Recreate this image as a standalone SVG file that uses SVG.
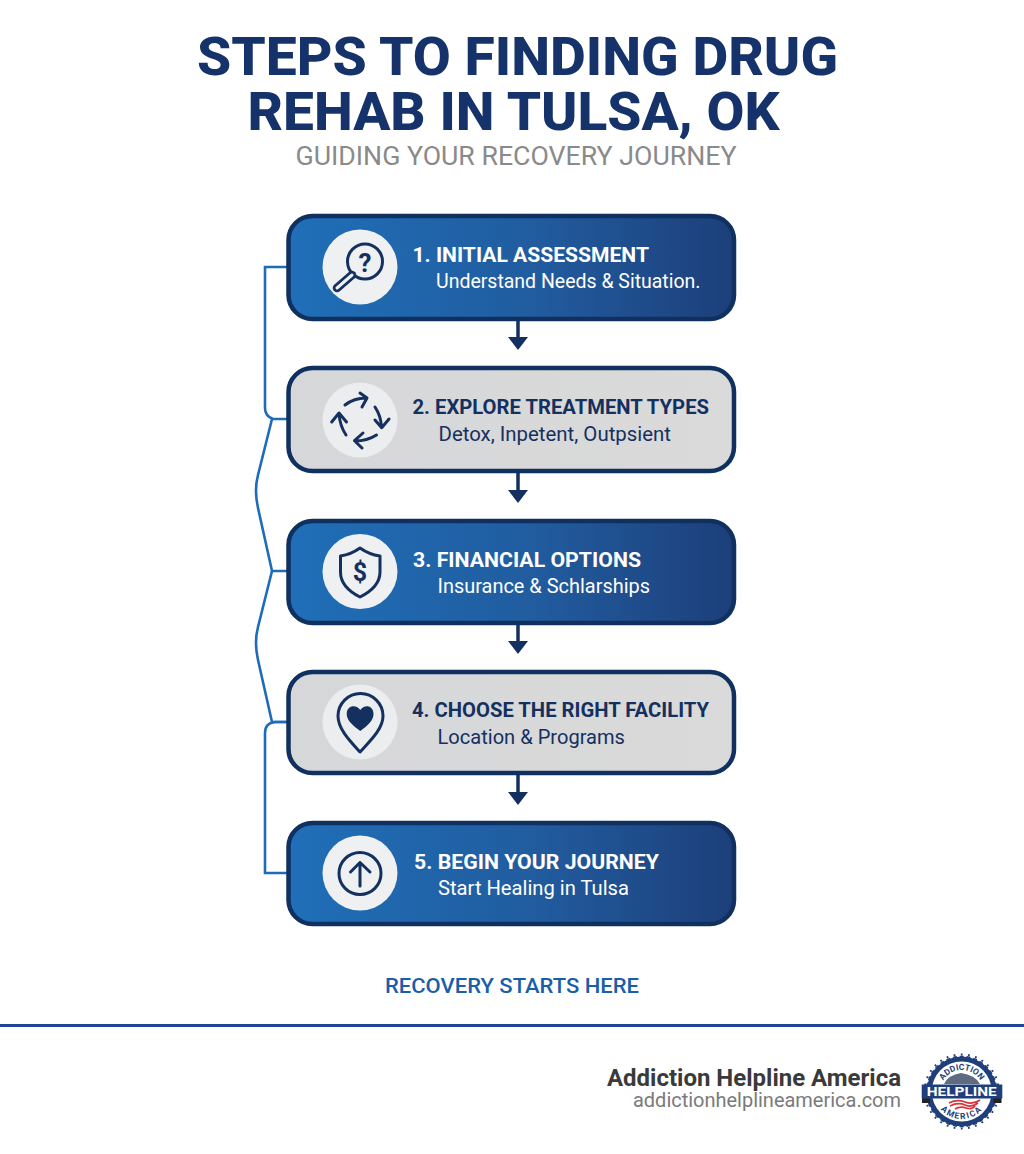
<svg xmlns="http://www.w3.org/2000/svg" width="1024" height="1154" viewBox="0 0 1024 1154">
<style>
text{font-family:Roboto,"Liberation Sans",sans-serif}
.box{stroke:#10305f;stroke-width:4.5}
.blue{fill:url(#gb)}
.gray{fill:url(#gg)}
.disc{fill:#eef0f2}
.discg{fill:#ecedee}
.t{font-size:20.5px;font-weight:700}
.s{font-size:20px;font-weight:400}
.w{fill:#fff}
.n{fill:#14305f}
.ic{fill:none;stroke:#14305f;stroke-width:3;stroke-linecap:round;stroke-linejoin:round}
.link{fill:none;stroke:#1e6cb8;stroke-width:2.6}
.flow{stroke:#14305f;stroke-width:3.5;fill:none}
.h{font-size:54.500px;font-weight:800;fill:#15336a}
</style>
<defs>
<linearGradient id="gb" x1="0" y1="0" x2="1" y2="0"><stop offset="0" stop-color="#1f6fb8"/><stop offset="0.55" stop-color="#215c9f"/><stop offset="1" stop-color="#1d3f7a"/></linearGradient>
<linearGradient id="gg" x1="0" y1="0" x2="1" y2="0"><stop offset="0" stop-color="#d6d7d9"/><stop offset="1" stop-color="#dadada"/></linearGradient>
<marker id="ah" markerUnits="userSpaceOnUse" markerWidth="13" markerHeight="20" refX="0" refY="10" orient="auto" viewBox="0 0 13 20"><path d="M0 0L13 10L0 20Z" fill="#14305f"/></marker>
<path id="arcT" d="M940.200 1091.500A21.500 21.500 0 0 1 983.200 1091.500"/>
<path id="arcB" d="M934.200 1091.500A27.500 27.500 0 0 0 989.200 1091.500"/>
</defs>
<rect width="1024" height="1154" fill="#fff"/>
<g id="header">
<text class="h" x="517.5" y="74.500" text-anchor="middle" textLength="641" lengthAdjust="spacingAndGlyphs">STEPS TO FINDING DRUG</text>
<text class="h" x="513.5" y="129.500" text-anchor="middle" textLength="532" lengthAdjust="spacingAndGlyphs">REHAB IN TULSA, OK</text>
<text x="516" y="165" text-anchor="middle" font-size="26" fill="#8a8a8a" textLength="441" lengthAdjust="spacingAndGlyphs">GUIDING YOUR RECOVERY JOURNEY</text>
</g>
<g id="connectors">
<path class="link" d="M288 267H265V408Q265 416 273 419H288"/>
<path class="link" d="M272 419L258 475Q254 490 258 508L272 571H288"/>
<path class="link" d="M272 571L258 627Q254 642 258 660L272 722H288"/>
<path class="link" d="M288 722H275Q265 723 265 733V873H288"/>
<path class="flow" d="M518 320V337" marker-end="url(#ah)"/>
<path class="flow" d="M518 473V490" marker-end="url(#ah)"/>
<path class="flow" d="M518 625V641" marker-end="url(#ah)"/>
<path class="flow" d="M518 775V792" marker-end="url(#ah)"/>
</g>
<g id="step1">
<rect class="box blue" x="288.5" y="216" width="445.5" height="103" rx="24"/>
<circle class="disc" cx="360" cy="267" r="37.5"/>
<circle class="ic" cx="365" cy="261.5" r="17.5"/>
<path d="M337 288L352 275" fill="none" stroke="#14305f" stroke-width="8.5" stroke-linecap="round"/>
<path d="M337 288L352 275" fill="none" stroke="#eef0f2" stroke-width="3" stroke-linecap="round"/>
<text x="365" y="271.5" text-anchor="middle" font-size="26" font-weight="700" class="n">?</text>
<text class="t w" x="412.5" y="262" textLength="236.5" lengthAdjust="spacingAndGlyphs">1. INITIAL ASSESSMENT</text>
<text class="s w" x="436" y="288" textLength="264.5" lengthAdjust="spacingAndGlyphs">Understand Needs &amp; Situation.</text>
</g>
<g id="step2">
<rect class="box gray" x="288.5" y="368" width="445.5" height="103" rx="24"/>
<circle class="discg" cx="360" cy="420" r="37.5"/>
<path class="ic" d="M345 405Q354 398 366 398M360 393L367 398L362 407"/>
<path class="ic" d="M375 407Q381 416 381.500 427M375 420L381.700 427.700L389 419"/>
<path class="ic" d="M376.500 435Q367 441 355 441M363 433L354.500 440.700L362 448"/>
<path class="ic" d="M346 435Q340 426 339 414M331.700 422L339 413L346.500 422"/>
<text class="t n" x="412.500" y="414" textLength="296.500" lengthAdjust="spacingAndGlyphs">2. EXPLORE TREATMENT TYPES</text>
<text class="s n" x="438.500" y="441" textLength="232.500" lengthAdjust="spacingAndGlyphs">Detox, Inpetent, Outpsient</text>
</g>
<g id="step3">
<rect class="box blue" x="288.5" y="521" width="445.5" height="102" rx="24"/>
<circle class="disc" cx="360" cy="571.500" r="37.500"/>
<path class="ic" d="M360 548C353 553 347 555 340.500 556V572C340.500 584 350 592 360 597C370 592 380 584 380 572V556C373 555 367 553 360 548Z"/>
<text x="360" y="581" text-anchor="middle" font-size="25" font-weight="700" class="n">$</text>
<text class="t w" x="413" y="567" textLength="228" lengthAdjust="spacingAndGlyphs">3. FINANCIAL OPTIONS</text>
<text class="s w" x="437.500" y="593" textLength="212.500" lengthAdjust="spacingAndGlyphs">Insurance &amp; Schlarships</text>
</g>
<g id="step4">
<rect class="box gray" x="288.5" y="672" width="445.5" height="101" rx="24"/>
<circle class="discg" cx="360" cy="722" r="37.500"/>
<path class="ic" d="M360 752C350 741 338 729 338 716A22.500 22.500 0 0 1 383 716C383 729 370 741 360 752Z"/>
<path class="n" d="M360.300 731C352 725 346.700 720 346.700 714C346.700 705 356.500 704 360.300 710C364 704 373.500 705 373.500 714C373.500 720 368.500 725 360.300 731Z"/>
<text class="t n" x="412" y="717" textLength="297" lengthAdjust="spacingAndGlyphs">4. CHOOSE THE RIGHT FACILITY</text>
<text class="s n" x="437.500" y="744" textLength="187.500" lengthAdjust="spacingAndGlyphs">Location &amp; Programs</text>
</g>
<g id="step5">
<rect class="box blue" x="288.5" y="823" width="445.5" height="101" rx="24"/>
<circle class="disc" cx="360" cy="873" r="37.500"/>
<circle class="ic" cx="360" cy="873.500" r="21"/>
<path class="ic" d="M360 886V862.500M350.500 872L360 862.500L370 872"/>
<text class="t w" x="414" y="869" textLength="245" lengthAdjust="spacingAndGlyphs">5. BEGIN YOUR JOURNEY</text>
<text class="s w" x="438" y="895" textLength="191" lengthAdjust="spacingAndGlyphs">Start Healing in Tulsa</text>
</g>
<text id="tagline" x="512" y="993" text-anchor="middle" font-size="21" font-weight="500" fill="#1a5ea8" textLength="254" lengthAdjust="spacingAndGlyphs">RECOVERY STARTS HERE</text>
<rect id="rule" x="0" y="1024" width="1024" height="3" fill="#1f4796"/>
<g id="footer">
<text x="901" y="1086" text-anchor="end" font-size="23" font-weight="700" fill="#3a3a3a" textLength="294" lengthAdjust="spacingAndGlyphs">Addiction Helpline America</text>
<text x="901" y="1107" text-anchor="end" font-size="20" fill="#7a7a7a" textLength="268" lengthAdjust="spacingAndGlyphs">addictionhelplineamerica.com</text>
</g>
<g id="logo">
<circle cx="961.700" cy="1091.500" r="35" fill="#1f3f7c"/>
<circle cx="961.700" cy="1091.500" r="35" fill="none" stroke="#1f3f7c" stroke-width="1.500" pathLength="320" stroke-dasharray="6 4" stroke-dashoffset="3"/>
<circle cx="961.700" cy="1091.500" r="37" fill="none" stroke="#1f3f7c" stroke-width="2" pathLength="320" stroke-dasharray="2.500 7.500" stroke-dashoffset="1.250"/>
<circle cx="961.700" cy="1091.500" r="30" fill="#fff"/>
<path d="M944 1084Q948 1075 961 1073Q975 1075 980 1084Z" fill="#5f6b80"/>
<path d="M949 1103Q957 1099 965 1102T980 1100M950 1106Q958 1102 965 1105T978 1103M955 1109Q960 1106 966 1108T975 1106" fill="none" stroke="#d8343c" stroke-width="1.800"/>
<rect x="922" y="1098" width="8" height="5" fill="#222"/>
<rect x="993.500" y="1098" width="8" height="5" fill="#222"/>
<rect x="921.700" y="1084.500" width="80.600" height="14" fill="#1f3f7c"/>
<text x="961.700" y="1096" text-anchor="middle" font-size="13.500" font-weight="700" fill="#fff" textLength="70" lengthAdjust="spacingAndGlyphs">HELPLINE</text>
<text font-size="8.500" font-weight="700" fill="#1f3f7c"><textPath href="#arcT" startOffset="50%" text-anchor="middle">ADDICTION</textPath></text>
<text font-size="8.500" font-weight="700" fill="#1f3f7c" letter-spacing="1.500"><textPath href="#arcB" startOffset="50%" text-anchor="middle">AMERICA</textPath></text>
</g>
</svg>
